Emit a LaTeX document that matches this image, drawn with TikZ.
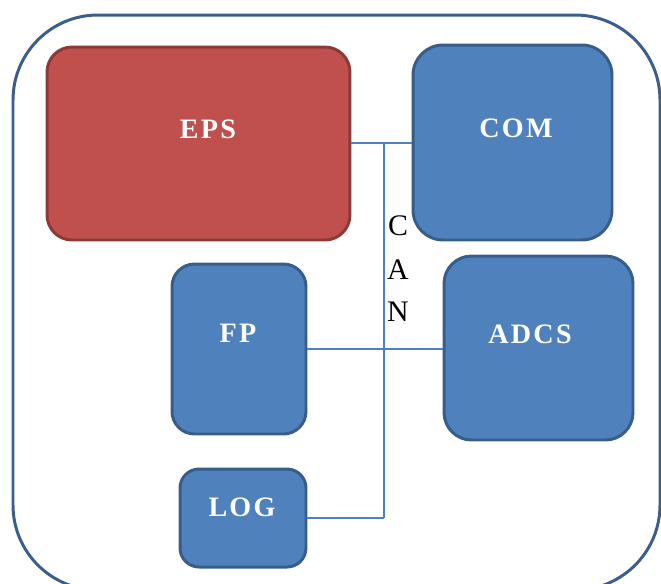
\documentclass[tikz,border=0pt]{standalone}
\usepackage{fontspec}
\setmainfont{Liberation Serif}
\usetikzlibrary{positioning}

\definecolor{boxblue}{HTML}{4F81BD}
\definecolor{edgeblue}{HTML}{385D8A}
\definecolor{boxred}{HTML}{C0504D}
\definecolor{edgered}{HTML}{8C3A38}
\definecolor{framecol}{HTML}{3A5F8C}

\tikzset{
	unit/.style={draw=edgeblue, fill=boxblue, line width=1.7pt, inner sep=0pt},
	redunit/.style={unit, draw=edgered, fill=boxred},
	unitname/.style={text=white, font=\fontsize{16}{18}\selectfont\bfseries\addfontfeatures{LetterSpace=8}},
	canbus/.style={draw=boxblue, line width=0.9pt},
	canletter/.style={font=\fontsize{17}{19}\selectfont}
}

\begin{document}
\begin{tikzpicture}[x=0.02cm, y=-0.02cm]
		\useasboundingbox (0,0) rectangle (661,583);
		\clip (0,0) rectangle (661,583);
		% outer frame
		\draw[framecol, line width=1.7pt, rounded corners=1.7cm] (13,15) rectangle (660,590);

		% subsystems
		\node[redunit, rounded corners=0.5cm, minimum width=6.06cm, minimum height=3.86cm] (eps) at (198.5,143.5) {};
		\node[unit, rounded corners=0.6cm, minimum width=3.98cm, minimum height=3.9cm] (com) at (512.5,142.5) {};
		\node[unit, rounded corners=0.45cm, minimum width=2.68cm, minimum height=3.4cm] (fp) at (239,349) {};
		\node[unit, rounded corners=0.55cm, minimum width=3.78cm, minimum height=3.68cm] (adcs) at (538.5,348) {};
		\node[unit, rounded corners=0.38cm, minimum width=2.52cm, minimum height=1.96cm] (log) at (243,518) {};

		\node[unitname] (epsname) at (208,129) {EPS};
		\node[unitname] (comname) at (516,128) {COM};
		\node[unitname] (fpname) at (238,333) {FP};
		\node[unitname] (adcsname) at (530,334) {ADCS};
		\node[unitname] (logname) at (242,507) {LOG};

		% CAN bus
		\coordinate (bustop) at (384,143);
		\coordinate (busbot) at (384,518);
		\draw[canbus] (eps.east |- bustop) -- (com.west |- bustop);
		\draw[canbus] (bustop) -- (busbot);
		\draw[canbus] (fp.east) -- (adcs.west |- fp.east);
		\draw[canbus] (log.east) -- (busbot);

		\node[canletter] (canc) at (398,226) {C};
		\node[canletter] (cana) at (398,270) {A};
		\node[canletter] (cann) at (398,312) {N};
\end{tikzpicture}
\end{document}
